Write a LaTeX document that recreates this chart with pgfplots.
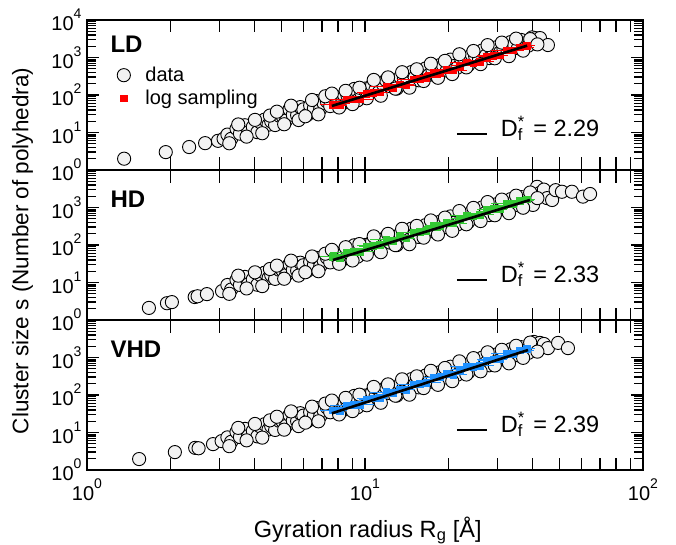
\documentclass[border=0pt]{standalone}
\usepackage{fontspec}
\setmainfont{Liberation Sans}
\usepackage{pgfplots}
\pgfplotsset{compat=1.18}
\definecolor{cfill}{gray}{0.95}
\definecolor{cred}{RGB}{255,0,0}
\definecolor{cgreen}{RGB}{50,200,50}
\definecolor{cblue}{RGB}{30,144,255}
\newcommand{\tp}[1]{10\raisebox{0.6em}{\fontsize{14}{14}\selectfont #1}}
\newcommand{\df}[1]{\rule[1.5pt]{30pt}{2.6pt}\hspace{14pt}D\rlap{\textsubscript{f}}\textsuperscript{*}\hspace{2pt} = #1}
\pgfplotsset{
 every axis/.append style={
  scale only axis, width=556pt, height=150pt,
  xmin=1, xmax=100, ymin=1, ymax=10000,
  axis line style={line width=1.8pt},
  tick style={black, line width=1.3pt},
  tick align=inside,
  major tick length=12.5pt, minor tick length=9.5pt,
  xminorticks=false,
  xtick={1,10,100},
  extra x ticks={2,3,4,5,6,7,8,9,20,30,40,50,60,70,80,90},
  extra x tick labels={},
  ytick={1,10,100,1000,10000},
  tick label style={font=\fontsize{20}{24}\selectfont},
  yticklabel style={xshift=-2pt},
  xticklabel style={yshift=-5pt},
  clip marker paths=true,
 },
}
\tikzset{
 plab/.style={font=\fontsize{24}{28}\selectfont\bfseries, anchor=base west},
 dlab/.style={font=\fontsize{23.5}{27}\selectfont, anchor=base west, inner sep=0pt},
}
\begin{document}
\begin{tikzpicture}
\path[use as bounding box] (-87pt,-74pt) rectangle (589pt,470pt);
% ---------------- LD ----------------
\begin{loglogaxis}[at={(0pt,300pt)}, anchor=south west,
  yticklabels={\tp{0},\tp{1},\tp{2},\tp{3},\tp{4}}, xticklabels={},
  legend style={draw=none, fill=none, at={(axis description cs:0.054,0.70)}, anchor=north west,
    font=\fontsize{20}{24}\selectfont, row sep=3pt, inner sep=0pt},
  legend cell align=left]
\addplot[only marks, mark=*, mark size=6.6pt, mark options={fill=cfill, draw=black, line width=0.9pt}] coordinates {
(1.36,2.0) (1.92,3.0) (2.33,4.1) (2.66,5.2) (2.96,6.0) (3.1,6.8)
(3.2,8.8) (3.3,6.76) (3.45,12.6) (3.55,9.31) (3.7,15.6) (3.8,10.1) (3.95,14.1) (4.1,10.2) (4.2,18.8) (4.35,22.0) (4.5,16.2) (4.6,19.7) (4.75,15.8) (4.9,28.4) (5.05,27.3) (5.2,20.8) (5.35,41.6) (5.5,29.5) (5.7,28.8) (5.85,47.6) (6.0,41.3) (6.2,29.6) (6.35,52.4) (6.55,43.9) (6.7,68.7) (6.9,41.7) (7.1,60.3) (7.3,67.0) (7.5,50.6) (7.7,93.1) (7.95,69.3) (8.2,55.3) (8.4,101) (8.65,96.8) (8.9,80.0) (9.15,145) (9.4,72.1) (9.7,117) (10.0,148) (10.3,107) (10.6,181) (10.9,136) (11.2,118) (11.6,194) (11.9,248) (12.3,172) (12.7,208) (13.0,148) (13.4,303) (13.8,276) (14.2,218) (14.7,409) (15.1,295) (15.6,247) (16.0,424) (16.5,509) (17.0,344) (17.5,463) (18.0,327) (18.6,628) (19.1,607) (19.7,450) (20.3,877) (20.9,593) (21.5,537) (22.2,916) (22.8,832) (23.5,617) (24.2,1199) (24.9,1089) (25.7,869) (26.4,1535) (27.2,1112) (28.0,964) (28.9,1607) (29.7,1875) (30.6,1358) (31.5,1698) (32.5,1265) (33.4,2570) (34.4,2239) (35.5,1778) (36.5,2931) (37.6,2382) (38.7,2075) (39.9,3436) (41.1,3281) (42.3,2780) (42.6,3300) (45.5,2150)
(3.25,5.16) (3.5,16.4) (3.75,7.76) (4.02,21.7) (4.27,9.57) (4.55,28.3) (4.82,35.9) (5.12,16.6) (5.42,51.8) (5.77,21.5) (6.1,27.1) (6.45,73.6) (6.8,30.5) (7.2,92.5) (7.6,109) (8.07,46.5) (8.52,129) (9.02,57.1) (9.55,156) (10.15,82.0) (10.75,252) (11.4,95.7) (12.1,295) (12.85,148) (13.6,405) (14.45,157) (15.35,485) (16.25,236) (17.25,681) (18.3,288) (19.4,813) (20.6,362) (21.85,1219) (23.15,545) (24.55,1489) (26.05,665) (27.6,2138) (29.3,953) (31.05,2495) (32.95,1086) (34.95,3184) (37.05,1524) (39.3,3090) (41.7,2239)
};
\addlegendentry{\kern13pt data}
\addplot[only marks, mark=square*, mark size=3.3pt, mark options={fill=cred, draw=cred, line width=0.5pt},
   error bars/.cd, x dir=both, x explicit, error mark=none, error bar style={cred, line width=1pt}] coordinates {
(7.67,55.8) +- (0.8,0) (8.11,54.0) +- (0.5,0) (8.57,75.3) +- (1.1,0) (9.06,76.2) +- (0.7,0) (9.57,76.9) +- (1.2,0) (10.12,107) +- (0.6,0) (10.69,114) +- (1.3,0) (11.30,118) +- (0.8,0) (11.94,164) +- (1.5,0) (12.62,155) +- (0.9,0) (13.34,193) +- (1.7,0) (14.09,182) +- (1.0,0) (14.89,261) +- (1.9,0) (15.74,270) +- (1.1,0) (16.63,286) +- (2.1,0) (17.58,390) +- (1.2,0) (18.58,385) +- (2.3,0) (19.63,480) +- (1.4,0) (20.75,453) +- (2.6,0) (21.93,604) +- (1.5,0) (23.17,752) +- (2.9,0) (24.49,710) +- (1.7,0) (25.88,769) +- (3.2,0) (27.35,1050) +- (1.9,0) (28.91,1112) +- (3.6,0) (30.55,1151) +- (2.1,0) (32.28,1570) +- (4.0,0) (34.12,1552) +- (2.4,0) (36.06,1888) +- (4.5,0) (38.11,2042) +- (2.7,0)
};
\addlegendentry{\kern13pt log sampling}
\addplot[black, line width=2.6pt, no marks] coordinates {(7.6,51) (38.3,2065)};
\node[plab] at (axis description cs:0.036,0.78) {LD};
\node[dlab] at (axis description cs:0.665,0.22) {\df{2.29}};
\end{loglogaxis}
% ---------------- HD ----------------
\begin{loglogaxis}[at={(0pt,150pt)}, anchor=south west,
  yticklabels={\tp{0},\tp{1},\tp{2},\tp{3},{}}, xticklabels={},
  ylabel={Cluster size s (Number of polyhedra)},
  ylabel style={font=\fontsize{22.5}{26}\selectfont, at={(axis description cs:-0.116,0.46)}, anchor=center}]
\addplot[only marks, mark=*, mark size=6.6pt, mark options={fill=cfill, draw=black, line width=0.9pt}] coordinates {
(1.67,2.1) (1.94,2.8) (2.02,3.0) (2.44,4.1) (2.5,4.3) (2.7,4.9) (3.06,5.9)
(3.2,8.59) (3.3,6.49) (3.45,11.7) (3.55,8.59) (3.7,14.1) (3.8,9.0) (3.95,12.2) (4.1,8.71) (4.2,15.8) (4.35,18.2) (4.5,13.2) (4.6,15.8) (4.75,12.5) (4.9,22.1) (5.05,20.9) (5.2,15.7) (5.35,30.9) (5.5,21.6) (5.7,20.7) (5.85,33.7) (6.0,28.8) (6.2,20.3) (6.35,35.5) (6.55,29.2) (6.7,45.3) (6.9,27.0) (7.1,38.5) (7.3,45.7) (7.5,34.4) (7.7,63.4) (7.95,47.2) (8.2,37.6) (8.4,68.9) (8.65,65.6) (8.9,54.2) (9.15,98.2) (9.4,48.9) (9.7,79.4) (10.0,100) (10.3,72.3) (10.6,122) (10.9,91.8) (11.2,79.4) (11.6,130) (11.9,166) (12.3,116) (12.7,139) (13.0,99.3) (13.4,202) (13.8,185) (14.2,146) (14.7,273) (15.1,197) (15.6,164) (16.0,282) (16.5,338) (17.0,229) (17.5,308) (18.0,216) (18.6,416) (19.1,402) (19.7,297) (20.3,578) (20.9,391) (21.5,354) (22.2,603) (22.8,547) (23.5,405) (24.2,787) (24.9,713) (25.7,569) (26.4,1005) (27.2,726) (28.0,628) (28.9,1047) (29.7,1222) (30.6,883) (31.5,1107) (32.5,822) (33.4,1667) (34.4,1452) (35.5,1151) (36.5,1897) (37.6,1538) (38.7,1340) (39.9,2218) (41.1,2692) (42.3,2239)
(40.2,1170) (41.6,3560) (42.6,2440) (44.0,3000) (45.2,1780) (47.1,1585) (48.5,2900) (51.1,2630) (55.5,2630) (60.8,1950) (64.5,2290)
(3.25,4.99) (3.5,15.2) (3.75,6.95) (4.02,18.7) (4.27,8.02) (4.55,22.9) (4.82,28.2) (5.12,12.6) (5.42,38.2) (5.77,15.3) (6.1,18.8) (6.45,49.4) (6.8,20.0) (7.2,58.6) (7.6,74.3) (8.07,31.6) (8.52,87.5) (9.02,38.7) (9.55,106) (10.15,55.3) (10.75,170) (11.4,64.3) (12.1,198) (12.85,99.1) (13.6,270) (14.45,105) (15.35,323) (16.25,157) (17.25,451) (18.3,191) (19.4,537) (20.6,239) (21.85,804) (23.15,357) (24.55,977) (26.05,435) (27.6,1396) (29.3,622) (31.05,1622) (32.95,706) (34.95,2065) (37.05,986) (39.3,2512) (41.7,1778)
};
\addplot[only marks, mark=square*, mark size=3.3pt, mark options={fill=cgreen, draw=cgreen, line width=0.5pt},
   error bars/.cd, x dir=both, x explicit, error mark=none, error bar style={cgreen, line width=1pt}] coordinates {
(7.67,47.9) +- (0.8,0) (8.11,46.1) +- (0.5,0) (8.57,64.3) +- (1.1,0) (9.06,64.9) +- (0.7,0) (9.57,65.6) +- (1.2,0) (10.12,91.4) +- (0.6,0) (10.69,96.6) +- (1.3,0) (11.30,99.8) +- (0.8,0) (11.94,139) +- (1.5,0) (12.62,131) +- (0.9,0) (13.34,163) +- (1.7,0) (14.09,153) +- (1.0,0) (14.89,219) +- (1.9,0) (15.74,226) +- (1.1,0) (16.63,239) +- (2.1,0) (17.58,326) +- (1.2,0) (18.58,321) +- (2.3,0) (19.63,399) +- (1.4,0) (20.75,376) +- (2.6,0) (21.93,500) +- (1.5,0) (23.17,621) +- (2.9,0) (24.49,586) +- (1.7,0) (25.88,634) +- (3.2,0) (27.35,863) +- (1.9,0) (28.91,912) +- (3.6,0) (30.55,942) +- (2.1,0) (32.28,1282) +- (4.0,0) (34.12,1268) +- (2.4,0) (36.06,1538) +- (4.5,0) (38.11,1663) +- (2.7,0)
};
\addplot[black, line width=2.6pt, no marks] coordinates {(7.67,39.8) (39.2,1585)};
\node[plab] at (axis description cs:0.036,0.753) {HD};
\node[dlab] at (axis description cs:0.665,0.247) {\df{2.33}};
\end{loglogaxis}
% ---------------- VHD ----------------
\begin{loglogaxis}[at={(0pt,0pt)}, anchor=south west,
  yticklabels={\tp{0},\tp{1},\tp{2},\tp{3},{}}, xticklabels={\tp{0},\tp{1},\tp{2}},
  xlabel={Gyration radius R\textsubscript{g} [Å]},
  xlabel style={font=\fontsize{23.5}{27}\selectfont, at={(axis description cs:0.505,-0.447)}, anchor=base}]
\addplot[only marks, mark=*, mark size=6.6pt, mark options={fill=cfill, draw=black, line width=0.9pt}] coordinates {
(1.54,1.96) (2.07,3.0) (2.45,3.9) (2.52,3.8) (2.84,4.9) (3.05,5.9)
(3.2,7.41) (3.3,5.64) (3.45,10.3) (3.55,7.57) (3.7,12.5) (3.8,8.02) (3.95,11.0) (4.1,7.89) (4.2,14.4) (4.35,16.6) (4.5,12.1) (4.6,14.7) (4.75,11.7) (4.9,20.7) (5.05,19.7) (5.2,14.9) (5.35,29.4) (5.5,20.7) (5.7,20.0) (5.85,32.7) (6.0,28.1) (6.2,19.9) (6.35,34.9) (6.55,28.9) (6.7,45.0) (6.9,27.0) (7.1,38.7) (7.3,46.1) (7.5,34.7) (7.7,60.8) (7.95,45.3) (8.2,36.1) (8.4,66.1) (8.65,63.1) (8.9,52.1) (9.15,94.4) (9.4,47.0) (9.7,76.6) (10.0,96.4) (10.3,69.7) (10.6,118) (10.9,88.7) (11.2,76.7) (11.6,126) (11.9,161) (12.3,112) (12.7,135) (13.0,96.4) (13.4,196) (13.8,179) (14.2,141) (14.7,265) (15.1,191) (15.6,160) (16.0,275) (16.5,330) (17.0,223) (17.5,301) (18.0,211) (18.6,406) (19.1,393) (19.7,291) (20.3,568) (20.9,383) (21.5,348) (22.2,592) (22.8,537) (23.5,397) (24.2,774) (24.9,701) (25.7,560) (26.4,991) (27.2,716) (28.0,621) (28.9,1035) (29.7,1208) (30.6,875) (31.5,1094) (32.5,815) (33.4,1652) (34.4,1439) (35.5,1143) (36.5,1884) (37.6,1531) (38.7,1330) (39.9,2208) (41.1,2109) (42.3,1782)
(40.5,2600) (42.6,2450) (44.0,2300) (45.5,1780) (49.5,2450) (53.7,1780)
(3.25,4.32) (3.5,13.3) (3.75,6.18) (4.02,16.9) (4.27,7.31) (4.55,21.1) (4.82,26.3) (5.12,11.9) (5.42,36.5) (5.77,14.8) (6.1,18.3) (6.45,48.8) (6.8,19.9) (7.2,59.0) (7.6,71.1) (8.07,30.3) (8.52,83.9) (9.02,37.2) (9.55,102) (10.15,53.3) (10.75,164) (11.4,62.2) (12.1,192) (12.85,95.9) (13.6,262) (14.45,102) (15.35,315) (16.25,153) (17.25,441) (18.3,187) (19.4,525) (20.6,234) (21.85,789) (23.15,352) (24.55,962) (26.05,429) (27.6,1377) (29.3,614) (31.05,1603) (32.95,700) (34.95,2051) (37.05,979) (39.3,2500) (41.7,1435)
};
\addplot[only marks, mark=square*, mark size=3.3pt, mark options={fill=cblue, draw=cblue, line width=0.5pt},
   error bars/.cd, x dir=both, x explicit, error mark=none, error bar style={cblue, line width=1pt}] coordinates {
(7.67,38.9) +- (0.8,0) (8.11,37.8) +- (0.5,0) (8.57,53.1) +- (1.1,0) (9.06,54.0) +- (0.7,0) (9.57,55.0) +- (1.2,0) (10.12,77.1) +- (0.6,0) (10.69,82.2) +- (1.3,0) (11.30,85.5) +- (0.8,0) (11.94,120) +- (1.5,0) (12.62,114) +- (0.9,0) (13.34,143) +- (1.7,0) (14.09,136) +- (1.0,0) (14.89,195) +- (1.9,0) (15.74,203) +- (1.1,0) (16.63,216) +- (2.1,0) (17.58,296) +- (1.2,0) (18.58,295) +- (2.3,0) (19.63,370) +- (1.4,0) (20.75,351) +- (2.6,0) (21.93,471) +- (1.5,0) (23.17,589) +- (2.9,0) (24.49,560) +- (1.7,0) (25.88,610) +- (3.2,0) (27.35,837) +- (1.9,0) (28.91,891) +- (3.6,0) (30.55,929) +- (2.1,0) (32.28,1274) +- (4.0,0) (34.12,1268) +- (2.4,0) (36.06,1549) +- (4.5,0) (38.11,1690) +- (2.7,0)
};
\addplot[black, line width=2.6pt, no marks] coordinates {(7.6,32.5) (38.6,1585)};
\node[plab] at (axis description cs:0.036,0.753) {VHD};
\node[dlab] at (axis description cs:0.665,0.247) {\df{2.39}};
\end{loglogaxis}
\end{tikzpicture}
\end{document}
